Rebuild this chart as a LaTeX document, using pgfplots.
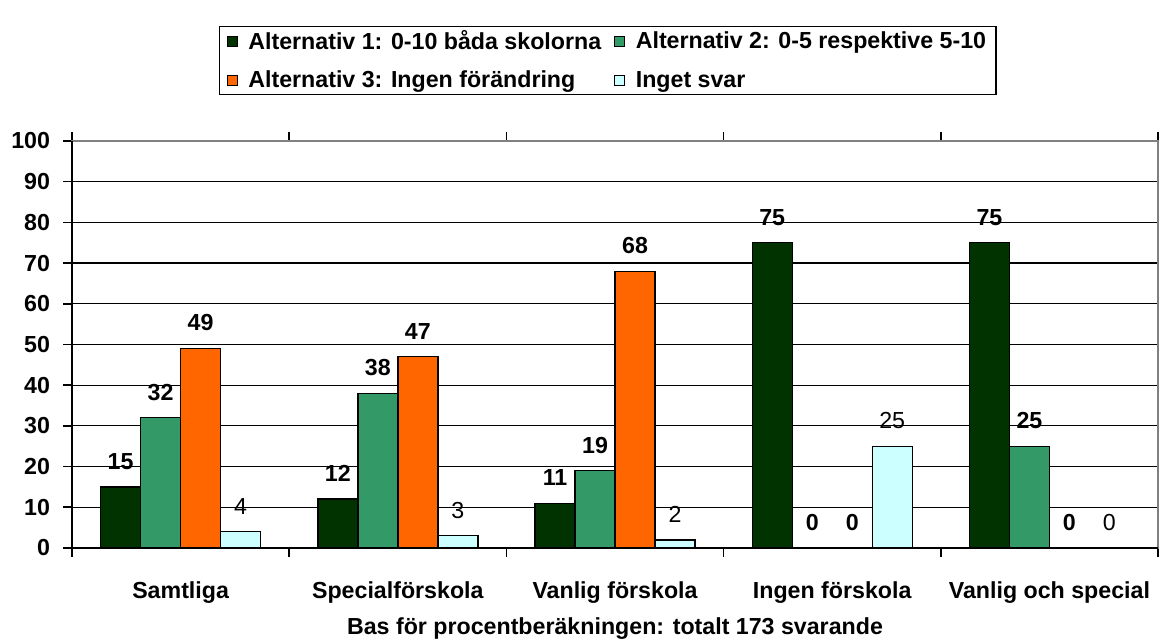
\documentclass[border=0pt]{standalone}
\usepackage{fontspec}
\setmainfont{Liberation Sans}
\usepackage{pgfplots}
\pgfplotsset{compat=1.18}
\definecolor{altone}{HTML}{003300}
\definecolor{alttwo}{HTML}{339966}
\definecolor{altthree}{HTML}{FF6600}
\definecolor{nosvar}{HTML}{CCFFFF}

\pgfplotsset{
  sqlegend/.style={legend image code/.code={
    \draw[#1,draw=black,line width=0.6bp] (0bp,-2.5bp) rectangle (5bp,2.5bp);
    \path[draw=none,fill=none] (0bp,0bp) -- (9bp,0bp);}},
}

\begin{document}
\begin{tikzpicture}
\begin{axis}[
  scale only axis,
  width=543bp, height=203.5bp,
  ybar=0pt, bar width=20bp,
  xmin=-0.5, xmax=4.5, ymin=0, ymax=100,
  font=\fontsize{11.6bp}{13bp}\selectfont\bfseries,
  /pgf/number format/assume math mode=true,
  xtick={0,1,2,3,4},
  xticklabels={Samtliga,Specialförskola,Vanlig förskola,Ingen förskola,Vanlig och special},
  major x tick style={draw=none},
  minor xtick={-0.5,0.5,1.5,2.5,3.5,4.5},
  ytick={0,10,...,100},
  tick align=outside,
  major tick length=4.5bp, minor tick length=4.5bp,
  tick style={black,line width=0.8bp},
  x tick label style={yshift=-9bp},
  y tick label style={xshift=-3bp},
  xlabel={Bas för procentberäkningen: totalt 173 svarande},
  xlabel style={yshift=0bp},
  ymajorgrids,
  grid style={black,line width=0.6bp},
  axis line style={gray,line width=0.6bp},
  nodes near coords,
  nodes near coords style={anchor=south,yshift=5bp},
  legend columns=2,
  legend cell align=left,
  legend style={at={(rel axis cs:0.1354,1.2826)},anchor=north west,
    draw=black,line width=0.7bp,inner xsep=3.5bp,inner ysep=0.5bp,
    font=\fontsize{11.6bp}{13bp}\selectfont\bfseries,
    nodes={inner sep=1.5bp},
    /tikz/every even column/.append style={column sep=5bp},
    row sep=6bp},
  clip=false,
]
\addplot[sqlegend,fill=altone,draw=black,line width=0.7bp] coordinates {(0,15) (1,12) (2,11) (3,75) (4,75)};
\addplot[sqlegend,fill=alttwo,draw=black,line width=0.7bp] coordinates {(0,32) (1,38) (2,19) (3,0) (4,25)};
\addplot[sqlegend,fill=altthree,draw=black,line width=0.7bp] coordinates {(0,49) (1,47) (2,68) (3,0) (4,0)};
\addplot[sqlegend,fill=nosvar,draw=black,line width=0.7bp,
  nodes near coords style={font=\fontsize{11.6bp}{13bp}\selectfont\mdseries}] coordinates {(0,4) (1,3) (2,2) (3,25) (4,0)};
\legend{Alternativ 1: 0-10 båda skolorna,Alternativ 2: 0-5 respektive 5-10,Alternativ 3: Ingen förändring,Inget svar}
\draw[black,line width=1bp] (rel axis cs:0,1) -- (rel axis cs:0,0) -- (rel axis cs:1,0);
\coordinate (bbl) at (rel axis cs:-0.0663,-0.226);
\coordinate (btr) at (rel axis cs:1.0009,1.3464);
\end{axis}
\pgfresetboundingbox
\path (bbl) rectangle (btr);
\end{tikzpicture}
\end{document}
